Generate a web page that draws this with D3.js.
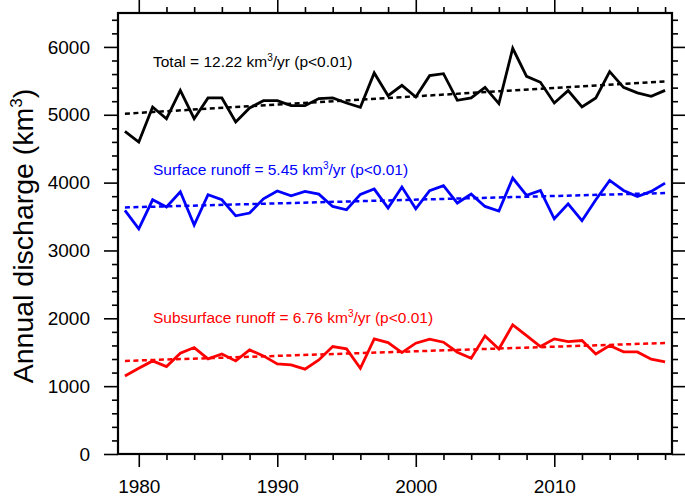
<!DOCTYPE html>
<html>
<head>
<meta charset="utf-8">
<script src="https://cdn.jsdelivr.net/npm/d3@7"></script>
<style>
  html, body { margin: 0; padding: 0; background: #fff; }
  svg { display: block; font-family: "Liberation Sans", Arial, Helvetica, sans-serif; }
</style>
</head>
<body>
<svg id="chart" width="685" height="497"></svg>
<script>
// ---- data ----
const years = d3.range(1979, 2019);
const total = [4755, 4598, 5115, 4942, 5360, 4942, 5248, 5248, 4894, 5100,
               5208, 5208, 5134, 5134, 5238, 5248, 5174, 5110, 5617, 5282,
               5434, 5262, 5577, 5606, 5213, 5248, 5404, 5164, 5980, 5567,
               5478, 5174, 5356, 5115, 5248, 5636, 5404, 5322, 5272, 5360];
const surface = [3590, 3320, 3747, 3640, 3866, 3374, 3821, 3747, 3511, 3551,
                 3762, 3876, 3806, 3870, 3831, 3649, 3600, 3826, 3905, 3625,
                 3935, 3615, 3880, 3954, 3699, 3831, 3649, 3581, 4067, 3811,
                 3885, 3467, 3688, 3438, 3747, 4032, 3885, 3796, 3870, 3993];
const subsurface = [1151, 1264, 1372, 1288, 1486, 1569, 1402, 1475, 1372, 1534,
                    1446, 1328, 1313, 1250, 1387, 1584, 1549, 1264, 1697, 1643,
                    1495, 1633, 1692, 1648, 1500, 1412, 1741, 1549, 1903, 1746,
                    1584, 1697, 1657, 1672, 1475, 1598, 1505, 1505, 1397, 1357];
// trend lines: start value (1979) and slope (km3/yr)
const trendStart = [5016, 3634, 1372];
const trendSlope = [12.22, 5.45, 6.76];
const seriesNames = ["Total", "Surface runoff", "Subsurface runoff"];
const pValues = ["p<0.01", "p<0.01", "p<0.01"];
const colors = ["#000000", "#0000ff", "#ff0000"];
const xTicks = [1980, 1990, 2000, 2010];
const yTicks = [0, 1000, 2000, 3000, 4000, 5000, 6000];
const yLabel = "Annual discharge (km";

// ---- layout ----
const svg = d3.select("#chart");
const L = 118, R = 672, T = 13, B = 454;
const x = d3.scaleLinear().domain([1978.5, 2018.5]).range([L, R]);
const y = d3.scaleLinear().domain([0, 6500]).range([B, T]);

const series = [total, surface, subsurface];
const labelPos = [[153, 67], [153, 175], [153, 323]];

// data lines
const line = d3.line().x((d, i) => x(years[i])).y(d => y(d));
series.forEach((s, k) => {
  svg.append("path").datum(s)
    .attr("d", line)
    .attr("fill", "none")
    .attr("stroke", colors[k])
    .attr("stroke-width", 2.8)
    .attr("stroke-linejoin", "miter");
  // trend
  const t0 = years[0], t1 = years[years.length - 1];
  svg.append("line")
    .attr("x1", x(t0)).attr("y1", y(trendStart[k]))
    .attr("x2", x(t1)).attr("y2", y(trendStart[k] + trendSlope[k] * (t1 - t0)))
    .attr("stroke", colors[k])
    .attr("stroke-width", 2.5)
    .attr("stroke-dasharray", "5,3.5");
  // label
  const tx = svg.append("text")
    .attr("x", labelPos[k][0]).attr("y", labelPos[k][1])
    .attr("fill", colors[k])
    .attr("font-size", 15.5);
  tx.append("tspan").text(`${seriesNames[k]} = ${trendSlope[k].toFixed(2)} km`);
  tx.append("tspan").attr("dy", -6).attr("font-size", 10).text("3");
  tx.append("tspan").attr("dy", 6).text(`/yr (${pValues[k]})`);
});

// axes with outward ticks on all sides
const yMinor = d3.range(0, 6501, 200).filter(v => v % 1000 !== 0);
const xMinor = d3.range(1980, 2019, 2).filter(v => v % 10 !== 0);

function drawAxis(axisGen, transform) {
  const g = svg.append("g").attr("transform", transform).call(axisGen);
  g.select(".domain").remove();
  g.selectAll(".tick line").attr("stroke", "#000").attr("stroke-width", 1.6);
  return g;
}
// left
drawAxis(d3.axisLeft(y).tickValues(yTicks).tickSize(14).tickPadding(14).tickFormat(d3.format("d")), `translate(${L},0)`)
  .selectAll("text").attr("font-size", 19).attr("fill", "#000").attr("font-family", "Liberation Sans, Arial, sans-serif");
drawAxis(d3.axisLeft(y).tickValues(yMinor).tickSize(6).tickFormat(""), `translate(${L},0)`);
// right
drawAxis(d3.axisRight(y).tickValues(yTicks).tickSize(13).tickFormat(""), `translate(${R},0)`);
drawAxis(d3.axisRight(y).tickValues(yMinor).tickSize(6).tickFormat(""), `translate(${R},0)`);
// bottom
drawAxis(d3.axisBottom(x).tickValues(xTicks).tickSize(13).tickPadding(13).tickFormat(d3.format("d")), `translate(0,${B})`)
  .selectAll("text").attr("font-size", 19).attr("fill", "#000").attr("font-family", "Liberation Sans, Arial, sans-serif");
drawAxis(d3.axisBottom(x).tickValues(xMinor).tickSize(6).tickFormat(""), `translate(0,${B})`);
// top
drawAxis(d3.axisTop(x).tickValues(xTicks).tickSize(13).tickFormat(""), `translate(0,${T})`);
drawAxis(d3.axisTop(x).tickValues(xMinor).tickSize(6).tickFormat(""), `translate(0,${T})`);

// frame
svg.append("rect").attr("x", L).attr("y", T).attr("width", R - L).attr("height", B - T)
  .attr("fill", "none").attr("stroke", "#000").attr("stroke-width", 2.2);

// y-axis title
const yt = svg.append("text")
  .attr("transform", `translate(33,236) rotate(-90)`)
  .attr("text-anchor", "middle")
  .attr("font-size", 28.5)
  .attr("fill", "#000");
yt.append("tspan").text(yLabel);
yt.append("tspan").attr("dy", -11).attr("font-size", 17).text("3");
yt.append("tspan").attr("dy", 11).text(")");
</script>
</body>
</html>
